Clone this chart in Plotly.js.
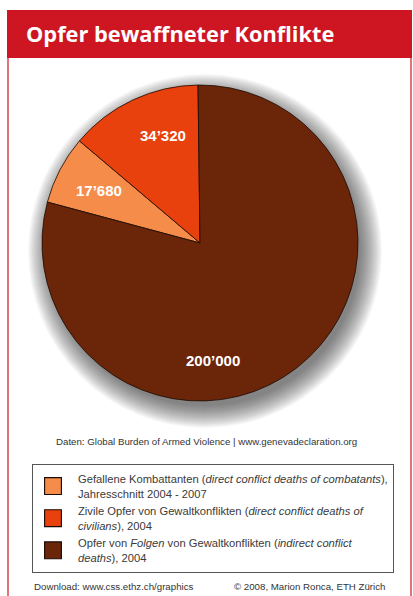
<!DOCTYPE html>
<html>
<head>
<meta charset="utf-8">
<script src="https://cdn.plot.ly/plotly-3.0.1.min.js"></script>
<style>
html,body{margin:0;padding:0;background:#fff;}
#chart{width:413px;height:596px;}
#chart .legendpoints path{transform:translate(20px,0px) scale(1.4);}
</style>
</head>
<body>
<div id="chart"></div>
<script>
// Data
const categories = [
  "Gefallene Kombattanten (<i>direct conflict deaths of combatants</i>),<br>Jahresschnitt 2004 - 2007",
  "Zivile Opfer von Gewaltkonflikten (<i>direct conflict deaths of</i><br><i>civilians</i>), 2004",
  "Opfer von <i>Folgen</i> von Gewaltkonflikten (<i>indirect conflict</i><br><i>deaths</i>), 2004"
];
const values = [17680, 34320, 200000];
const valueLabels = ["17’680", "34’320", "200’000"];
const colors = ["#F58C4A", "#E8410D", "#6B2609"];

const W = 413, H = 596;
const px = v => v / W;
const py = v => 1 - v / H;

const cx = 200, cy = 243, r = 158;

const trace = {
  type: 'pie',
  values: values,
  labels: categories,
  textinfo: 'none',
  sort: false,
  direction: 'clockwise',
  rotation: -75,
  marker: {colors: colors, line: {color: '#1a0a04', width: 0.8}},
  domain: {x: [px(cx - r), px(cx + r)], y: [py(cy + r), py(cy - r)]},
  hoverinfo: 'none'
};

const labelPos = [[99, 191], [163, 135], [213, 360]];
const labelFont = {family: 'Liberation Sans, Arial, sans-serif', size: 15, color: '#ffffff', weight: 700};

const red = '#CD1622';
const txt = {family: 'Liberation Sans, Arial, sans-serif', size: 9.7, color: '#333333'};
const annotations = [
  {text: 'Daten: Global Burden of Armed Violence | www.genevadeclaration.org', xref: 'paper', yref: 'paper', x: px(206), y: py(441), xanchor: 'center', yanchor: 'middle', showarrow: false, font: txt},
  {text: 'Download: www.css.ethz.ch/graphics', xref: 'paper', yref: 'paper', x: px(32), y: py(586), xanchor: 'left', yanchor: 'middle', showarrow: false, font: txt},
  {text: '© 2008, Marion Ronca, ETH Zürich', xref: 'paper', yref: 'paper', x: px(387), y: py(586), xanchor: 'right', yanchor: 'middle', showarrow: false, font: txt}
];
valueLabels.forEach((t, i) => annotations.push({
  text: '<b>' + t + '</b>', xref: 'paper', yref: 'paper', x: px(labelPos[i][0]), y: py(labelPos[i][1]),
  xanchor: 'center', yanchor: 'middle', showarrow: false, font: labelFont
}));

const shapes = [
  {type: 'rect', xref: 'paper', yref: 'paper', x0: px(7), x1: px(412), y0: py(10), y1: py(58), fillcolor: red, line: {width: 0}, layer: 'below'},
  {type: 'line', xref: 'paper', yref: 'paper', x0: px(8), x1: px(8), y0: py(58), y1: 0, line: {color: red, width: 1.2}},
  {type: 'line', xref: 'paper', yref: 'paper', x0: px(411), x1: px(411), y0: py(58), y1: 0, line: {color: red, width: 1.2}}
];
// soft drop shadow under the pie (decoration)
const sx = cx + 5, sy = cy + 8;
for (let k = 22; k >= 0; k--) {
  const rr = r - 3 + k;
  shapes.push({type: 'circle', xref: 'paper', yref: 'paper', layer: 'below',
    x0: px(sx - rr), x1: px(sx + rr), y0: py(sy + rr), y1: py(sy - rr),
    fillcolor: 'rgba(40,30,30,0.03)', line: {width: 0}});
}

const layout = {
  width: W, height: H,
  margin: {l: 0, r: 0, t: 0, b: 0},
  paper_bgcolor: '#ffffff',
  showlegend: true,
  legend: {
    x: px(32), xanchor: 'left',
    y: py(464), yanchor: 'top',
    bordercolor: '#555555', borderwidth: 1,
    bgcolor: '#ffffff',
    traceorder: 'normal',
    itemwidth: 35,
    font: {family: 'Liberation Sans, Arial, sans-serif', size: 11.2, color: '#3a3a3a'},
    valign: 'middle',
    tracegroupgap: 0
  },
  title: {
    text: '<b>Opfer bewaffneter Konflikte</b>',
    x: px(26), xanchor: 'left', xref: 'paper',
    y: py(34), yanchor: 'middle', yref: 'paper',
    font: {family: 'Open Sans, sans-serif', size: 21.8, color: '#ffffff'}
  },
  shapes: shapes,
  annotations: annotations
};

Plotly.newPlot('chart', [trace], layout, {displayModeBar: false, staticPlot: true});
</script>
</body>
</html>
